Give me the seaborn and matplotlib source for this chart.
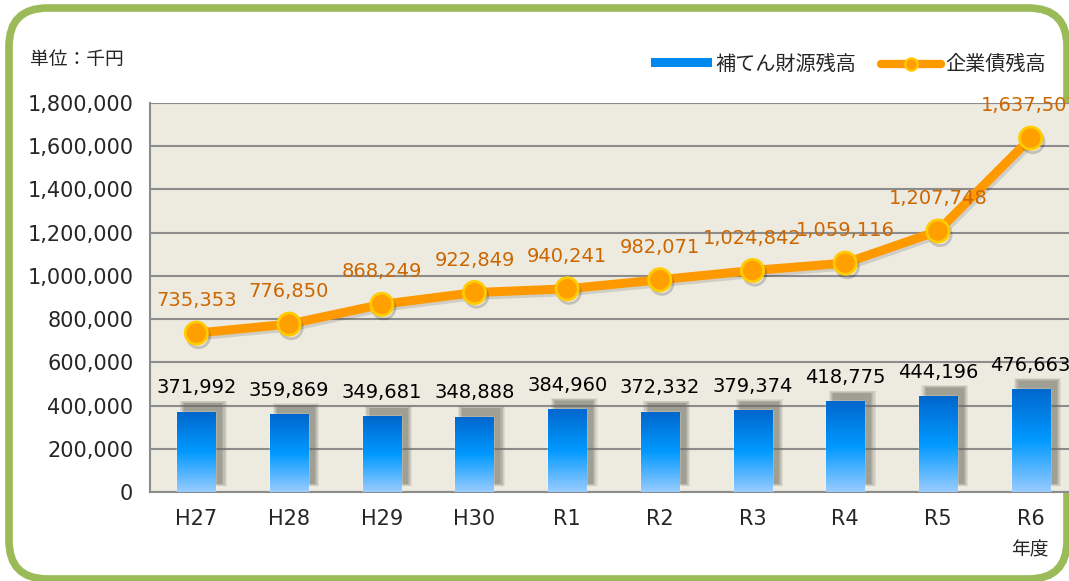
import numpy as np
import pandas as pd
import seaborn as sns
import matplotlib.pyplot as plt
import matplotlib.patheffects as pe
from matplotlib.patches import FancyBboxPatch, Rectangle
from matplotlib.lines import Line2D
from matplotlib.colors import LinearSegmentedColormap

years = ['H27', 'H28', 'H29', 'H30', 'R1', 'R2', 'R3', 'R4', 'R5', 'R6']
hoten = [371992, 359869, 349681, 348888, 384960, 372332, 379374, 418775, 444196, 476663]
kigyosai = [735353, 776850, 868249, 922849, 940241, 982071, 1024842, 1059116, 1207748, 1637507]

sns.set_style('white')
plt.rcParams['font.family'] = ['DejaVu Sans', 'Noto Sans CJK JP']
jp = ['Noto Sans CJK JP', 'DejaVu Sans']

df = pd.DataFrame({'year': years, 'hoten': hoten})

fig = plt.figure(figsize=(10.69, 5.81), dpi=100)

# rounded green frame (runs off the right and bottom edges like the original)
frame = FancyBboxPatch((9 / 1069, 1 - 579 / 581), 1058 / 1069, 571 / 581,
                       boxstyle='round,pad=0,rounding_size=0.036',
                       transform=fig.transFigure, facecolor='white', edgecolor='#9BBB59',
                       linewidth=5.5, mutation_aspect=1069 / 581, zorder=-10)
fig.patches.append(frame)

ax = fig.add_axes([150 / 1069, (581 - 492) / 581, (1077 - 150) / 1069, (492 - 103) / 581])
ax.set_facecolor('#EDEBE0')

sns.barplot(data=df, x='year', y='hoten', color='#0088EE', width=0.41, ax=ax, zorder=3)

cmap = LinearSegmentedColormap.from_list('bar', ['#99CCFF', '#0099FF', '#0066CC'])
grad = np.linspace(0, 1, 256).reshape(-1, 1)
for p in list(ax.patches):
    x0, w, h = p.get_x(), p.get_width(), p.get_height()
    # soft shadow
    for k, a in enumerate([0.12, 0.13, 0.15, 0.18, 0.22]):
        g = (4 - k) * 0.012
        ax.add_patch(Rectangle((x0 + 0.075 - g, 38000 - g * 250000), w + 2 * g, h + 2 * g * 250000,
                               facecolor='#6A6A60', edgecolor='none', alpha=a, zorder=2))
    im = ax.imshow(grad, cmap=cmap, aspect='auto', origin='lower',
                   extent=[x0, x0 + w, 0, h], zorder=4)
    im.set_clip_path(p)

xs = np.arange(len(years))
ax.plot(xs, kigyosai, color='#FF9900', linewidth=6.5, solid_capstyle='round', zorder=5,
        path_effects=[pe.SimpleLineShadow(offset=(1.5, -2), alpha=0.12), pe.Normal()])
ax.plot(xs, kigyosai, linestyle='none', marker='o', markersize=16, markerfacecolor='#FFA000',
        markeredgecolor='#FFCC00', markeredgewidth=2, zorder=6,
        path_effects=[pe.SimpleLineShadow(offset=(1.5, -2.5), alpha=0.18), pe.Normal()])

for i in xs:
    ax.text(i, hoten[i] + 110000, f'{hoten[i]:,}', ha='center', va='center', fontsize=14,
            color='black', zorder=7)
    ax.text(i, kigyosai[i] + 150000, f'{kigyosai[i]:,}', ha='center', va='center', fontsize=14,
            color='#CC6600', zorder=7)

ax.set_ylim(0, 1800000)
ax.set_xlim(-0.5, len(years) - 0.5)
ax.set_yticks(np.arange(0, 1800001, 200000))
ax.set_yticklabels([f'{v:,}' for v in range(0, 1800001, 200000)])
ax.yaxis.grid(True, color='#8C8C8C', linewidth=1.5, zorder=1)
ax.set_axisbelow(True)
ax.set_xticks(np.arange(-0.5, len(years), 1), minor=True)
ax.tick_params(axis='x', which='major', length=0, labelsize=15, pad=12)
ax.tick_params(axis='x', which='minor', length=6, color='#8C8C8C', width=1.5, direction='out')
ax.tick_params(axis='y', length=8, color='#8C8C8C', width=1.5, labelsize=15, pad=4)
ax.set_xlabel('')
ax.set_ylabel('')
for s in ['top', 'right']:
    ax.spines[s].set_visible(False)
for s in ['left', 'bottom']:
    ax.spines[s].set_color('#8C8C8C')
    ax.spines[s].set_linewidth(1.5)
ax.axhline(1800000, color='#8C8C8C', linewidth=1.5, zorder=1)

fig.text(30 / 1069, 1 - 60 / 581, '単位：千円', fontsize=13.5, va='center', ha='left', family=jp)
fig.text(1030 / 1069, 1 - 550 / 581, '年度', fontsize=13.5, va='center', ha='center', family=jp)

handles = [Rectangle((0, 0), 1, 1, facecolor='#0088EE', edgecolor='none'),
           Line2D([], [], color='#FF9900', linewidth=6, marker='o', markersize=9,
                  markerfacecolor='#FFA000', markeredgecolor='#FFCC00', markeredgewidth=1.5)]
fig.legend(handles, ['補てん財源残高', '企業債残高'], loc='center right',
           bbox_to_anchor=(1064 / 1069, 1 - 64 / 581), ncol=2, frameon=False,
           prop={'family': jp, 'size': 14.5},
           handlelength=3.0, handleheight=0.35, handletextpad=0.2, columnspacing=1.2)

fig.savefig('out.png', dpi=100)
